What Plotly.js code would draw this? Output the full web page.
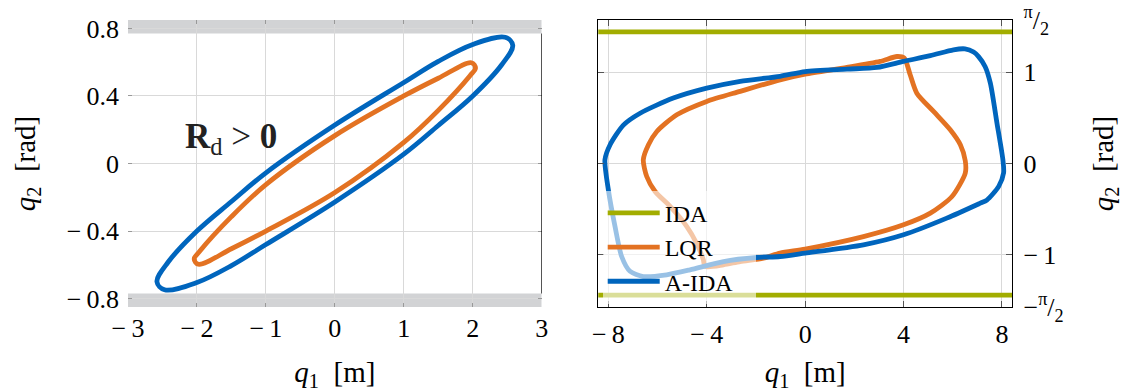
<!DOCTYPE html>
<html>
<head>
<meta charset="utf-8">
<script src="https://cdn.plot.ly/plotly-3.0.1.min.js"></script>
<style>html,body{margin:0;padding:0;background:#fff;}#chart{width:1129px;height:392px;}</style>
</head>
<body>
<div id="chart"></div>
<script>
// ---- Left panel (R_d > 0): closed trajectories in (q1, q2) ----
const leftLQR_q1 = [2.04, 1.98, 1.5, 1.0, 0.0, -1.0, -1.5, -1.96, -2.04, -1.98, -1.5, -1.0, 0.0, 1.0, 1.5, 1.96, 2.04];
const leftLQR_q2 = [0.565, 0.597, 0.505, 0.40, 0.165, -0.125, -0.315, -0.52, -0.565, -0.597, -0.505, -0.40, -0.172, 0.125, 0.315, 0.52, 0.565];
const leftAIDA_q1 = [2.58, 2.47, 2.0, 1.5, 1.0, 0.0, -1.0, -1.5, -2.0, -2.42, -2.58, -2.47, -2.0, -1.5, -1.0, 0.0, 1.0, 1.5, 2.0, 2.42, 2.58];
const leftAIDA_q2 = [0.70, 0.748, 0.705, 0.605, 0.48, 0.228, -0.055, -0.225, -0.40, -0.585, -0.70, -0.748, -0.705, -0.605, -0.48, -0.228, 0.055, 0.225, 0.40, 0.585, 0.70];

// ---- Right panel: closed trajectories ----
const rightLQR_q1 = [0, 1.7, 3.05, 3.73, 4.03, 4.27, 4.54, 5.22, 5.9, 6.31, 6.51, 6.51, 5.97, 5.09, 4.0, 2.37, 0, -1.02, -1.70, -2.64, -3.32, -4.07, -4.14, -4.41, -4.81, -5.49, -6.1, -6.44, -6.58, -6.37, -6.03, -5.22, -4.0, -2.64, -1.02, 0];
const rightLQR_q2 = [0.978, 1.051, 1.117, 1.171, 1.154, 0.971, 0.77, 0.57, 0.369, 0.205, 0.03, -0.105, -0.361, -0.543, -0.671, -0.80, -0.937, -0.981, -1.036, -1.073, -1.109, -1.127, -1.054, -0.875, -0.69, -0.47, -0.306, -0.142, 0.04, 0.205, 0.35, 0.533, 0.68, 0.79, 0.916, 0.978];
const rightAIDA_q1 = [0, 1.7, 2.92, 4.0, 5.09, 6.03, 6.5, 6.85, 7.05, 7.32, 7.53, 7.8, 8.04, 8.07, 7.87, 7.39, 7.12, 5.76, 4.0, 2.37, 0, -1.02, -1.97, -3.32, -4.68, -5.63, -6.58, -7.12, -7.46, -7.73, -8.0, -8.14, -7.93, -7.39, -6.71, -5.36, -4.0, -2.64, -1.02, 0];
const rightAIDA_q2 = [1.007, 1.033, 1.051, 1.117, 1.18, 1.245, 1.255, 1.22, 1.17, 1.06, 0.88, 0.44, 0.04, -0.10, -0.25, -0.40, -0.434, -0.598, -0.78, -0.89, -0.981, -1.018, -1.029, -1.073, -1.164, -1.218, -1.237, -1.18, -1.018, -0.69, -0.288, 0.04, 0.205, 0.42, 0.55, 0.716, 0.825, 0.90, 0.955, 1.007];
// IDA: saturated at the bounds
const rightIDA_q1 = [-9, 9, null, -9, 9];
const rightIDA_q2 = [1.44, 1.44, null, -1.44, -1.44];

// ---- ticks ----
const leftXTicks = [-3, -2, -1, 0, 1, 2, 3];
const leftXTickText = ['\u2212\u20093', '\u2212\u20092', '\u2212\u20091', '0', '1', '2', '3'];
const leftYTicks = [-0.8, -0.4, 0, 0.4, 0.8];
const leftYTickText = ['\u2212\u20090.8', '\u2212\u20090.4', '0', '0.4', '0.8'];
const rightXTicks = [-8, -4, 0, 4, 8];
const rightXTickText = ['\u2212\u20098', '\u2212\u20094', '0', '4', '8'];
const rightYTicks = [-Math.PI / 2, -1, 0, 1, Math.PI / 2];
const rightYTickText = ['\u2212<sup>\u03c0</sup>/<sub>2</sub>', '\u2212\u20091', '0', '1', '<sup>\u03c0</sup>/<sub>2</sub>'];
const seriesNames = ['IDA', 'LQR', 'A-IDA\u00a0\u00a0\u00a0'];
const boundBand = [0.77, 0.86];

const BLUE = '#0065BD', ORANGE = '#E37222', GREEN = '#A2AD00';
const FONT = '"Liberation Serif", "Times New Roman", serif';

const traces = [
  {x: leftLQR_q1, y: leftLQR_q2, xaxis: 'x', yaxis: 'y', mode: 'lines', line: {color: ORANGE, width: 4.8, shape: 'spline', smoothing: 1}, showlegend: false, hoverinfo: 'skip'},
  {x: leftAIDA_q1, y: leftAIDA_q2, xaxis: 'x', yaxis: 'y', mode: 'lines', line: {color: BLUE, width: 4.8, shape: 'spline', smoothing: 1}, showlegend: false, hoverinfo: 'skip'},
  {x: rightIDA_q1, y: rightIDA_q2, xaxis: 'x2', yaxis: 'y2', mode: 'lines', name: seriesNames[0], line: {color: GREEN, width: 4.8}},
  {x: rightLQR_q1, y: rightLQR_q2, xaxis: 'x2', yaxis: 'y2', mode: 'lines', name: seriesNames[1], line: {color: ORANGE, width: 4.8, shape: 'spline', smoothing: 0.7}},
  {x: rightAIDA_q1, y: rightAIDA_q2, xaxis: 'x2', yaxis: 'y2', mode: 'lines', name: seriesNames[2], line: {color: BLUE, width: 4.8, shape: 'spline', smoothing: 0.7}}
];

const axFont = {family: FONT, size: 26, color: '#000'};
const titleFont = {family: FONT, size: 29, color: '#000'};

const layout = {
  width: 1129, height: 392,
  margin: {l: 128, r: 117, t: 20, b: 85, pad: 0},
  paper_bgcolor: '#fff', plot_bgcolor: '#fff',
  showlegend: true,
  legend: {
    x: 0.537, y: 0.405, xanchor: 'left', yanchor: 'top',
    bgcolor: 'rgba(255,255,255,0.6)', borderwidth: 0,
    font: {family: FONT, size: 24, color: '#000'},
    itemwidth: 52, traceorder: 'normal'
  },
  xaxis: {
    domain: [0, 0.468], range: [-3, 3], tickvals: leftXTicks, ticktext: leftXTickText,
    showgrid: true, gridcolor: '#d9d9d9', gridwidth: 1, zeroline: false, showline: false,
    ticks: 'inside', ticklen: 4, tickcolor: '#999', mirror: 'ticks', tickfont: axFont, ticklabelstandoff: 3,
    title: {text: '<i>q</i><sub>1</sub>  [m]', font: titleFont, standoff: 22}
  },
  yaxis: {
    domain: [0, 1], range: [-0.85, 0.85], tickvals: leftYTicks, ticktext: leftYTickText,
    showgrid: true, gridcolor: '#d9d9d9', gridwidth: 1, zeroline: false, showline: false,
    ticks: 'inside', ticklen: 4, tickcolor: '#999', mirror: 'ticks', tickfont: axFont, ticklabelstandoff: 8,
    title: {text: '<i>q</i><sub>2</sub>  [rad]', font: titleFont, standoff: 22}
  },
  xaxis2: {
    domain: [0.532, 1], range: [-8.41, 8.41], anchor: 'y2', tickvals: rightXTicks, ticktext: rightXTickText,
    showgrid: true, gridcolor: '#d9d9d9', gridwidth: 1, zeroline: false,
    showline: true, linecolor: '#000', linewidth: 1.3, mirror: 'ticks',
    ticks: 'inside', ticklen: 6, tickcolor: '#555', tickfont: axFont, ticklabelstandoff: 3,
    title: {text: '<i>q</i><sub>1</sub>  [m]', font: titleFont, standoff: 22}
  },
  yaxis2: {
    domain: [0, 1], range: [-1.5708, 1.5708], anchor: 'x2', side: 'right', tickvals: rightYTicks, ticktext: rightYTickText,
    showgrid: true, gridcolor: '#d9d9d9', gridwidth: 1, zeroline: false,
    showline: true, linecolor: '#000', linewidth: 1.3, mirror: 'ticks',
    ticks: 'inside', ticklen: 6, tickcolor: '#555', tickfont: axFont, ticklabelstandoff: 5,
    title: {text: '<i>q</i><sub>2</sub>  [rad]', font: titleFont, standoff: 30}
  },
  shapes: [
    {type: 'rect', xref: 'x', yref: 'y', x0: -3, x1: 3, y0: boundBand[0], y1: boundBand[1], fillcolor: '#d2d3d5', line: {width: 0}, layer: 'below'},
    {type: 'rect', xref: 'x', yref: 'y', x0: -3, x1: 3, y0: -boundBand[1], y1: -boundBand[0], fillcolor: '#d2d3d5', line: {width: 0}, layer: 'below'},
    {type: 'line', xref: 'x', yref: 'y', x0: 3, x1: 3, y0: -boundBand[0], y1: boundBand[0], line: {color: '#000', width: 1.3}}
  ],
  annotations: [
    {xref: 'x', yref: 'y', x: -1.5, y: 0.15, text: '<b>R</b><sub>d</sub> > <b>0</b>', showarrow: false,
     font: {family: FONT, size: 35, color: '#222'}}
  ]
};

Plotly.newPlot('chart', traces, layout, {displayModeBar: false, staticPlot: true});
</script>
</body>
</html>
